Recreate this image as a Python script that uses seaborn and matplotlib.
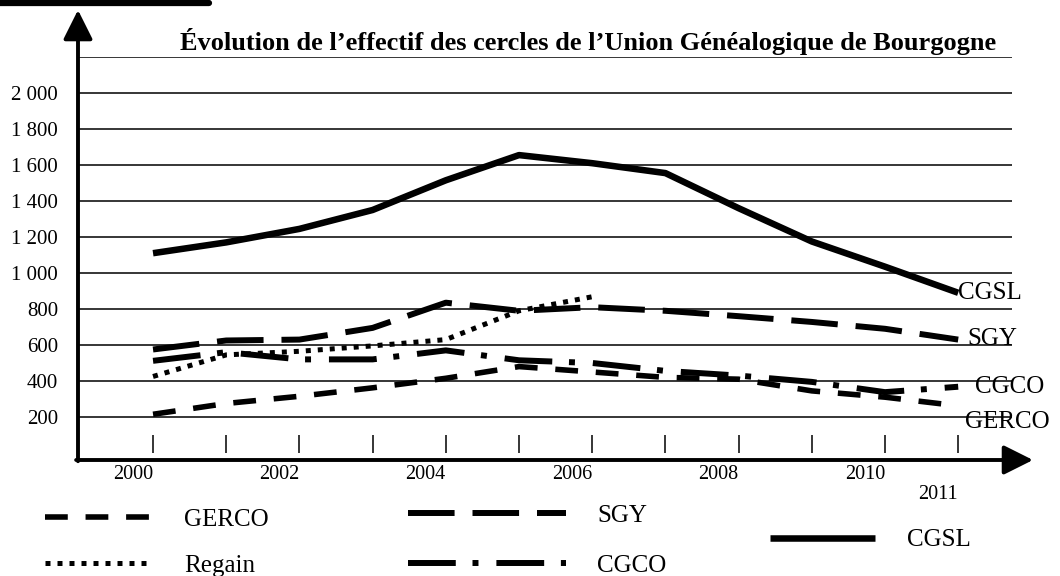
import pandas as pd
import matplotlib.pyplot as plt
import seaborn as sns
from matplotlib.lines import Line2D
from matplotlib.transforms import blended_transform_factory

# values
years = list(range(2000, 2012))
cgsl = [1110, 1170, 1245, 1350, 1515, 1655, 1610, 1555, 1360, 1175, 1035, 890]
sgy = [575, 625, 630, 695, 835, 790, 810, 790, 760, 728, 690, 630]
cgco = [512, 560, 520, 520, 570, 515, 500, 456, 430, 395, 338, 368]
gerco = [215, 275, 315, 362, 415, 480, 450, 420, 410, 345, 310, 262]
regain_years = years[:7]
regain = [425, 545, 565, 595, 630, 790, 868]

names = ['GERCO', 'Regain', 'SGY', 'CGCO', 'CGSL']
y_ticks = [200, 400, 600, 800, 1000, 1200, 1400, 1600, 1800, 2000, 2200]
y_labels = ['200', '400', '600', '800', '1 000', '1 200', '1 400', '1 600',
            '1 800', '2 000', '']
x_label_years = [2000, 2002, 2004, 2006, 2008, 2010, 2011]
title = 'Évolution de l’effectif des cercles de l’Union Généalogique de Bourgogne'

frames = []
for name, xs, vals in [('GERCO', years, gerco), ('Regain', regain_years, regain),
                       ('SGY', years, sgy), ('CGCO', years, cgco),
                       ('CGSL', years, cgsl)]:
    frames.append(pd.DataFrame({'year': xs, 'effectif': vals, 'cercle': name}))
df = pd.concat(frames, ignore_index=True)

# line styles (dash lengths in linewidth units)
dash_map = {'GERCO': (4.1, 3.2), 'Regain': (1, 1.4), 'SGY': (7.8, 3),
            'CGCO': (8, 2.8, 1, 3), 'CGSL': ''}
width_map = {'GERCO': 4.0, 'Regain': 3.6, 'SGY': 4.3, 'CGCO': 4.3, 'CGSL': 4.7}
# offsets (pixels) of the end labels from the last point
end_offsets = {'CGSL': (0, 0), 'SGY': (9, 1), 'CGCO': (17, 0), 'GERCO': (7, -16)}
last_vals = {'CGSL': cgsl[-1], 'SGY': sgy[-1], 'CGCO': cgco[-1], 'GERCO': gerco[-1]}

sns.set_theme(style='white')
plt.rcParams['font.family'] = ['Liberation Serif', 'DejaVu Serif']

fig = plt.figure(figsize=(10.6, 5.76), dpi=100)
ax = fig.add_axes([78 / 1060, 116 / 576, 934 / 1060, 403 / 576])

sns.lineplot(data=df, x='year', y='effectif', hue='cercle', style='cercle',
             size='cercle', hue_order=names, style_order=names, size_order=names,
             palette={n: 'black' for n in names}, dashes=dash_map,
             sizes=width_map, errorbar=None, legend=False, ax=ax)
handles = dict(zip(names, ax.lines[:5]))
for ln in ax.lines[:5]:
    ln.set_solid_capstyle('butt')

ax.set_xlim(1998.975, 2011.735)
ax.set_ylim(-39, 2200)
for s in ax.spines.values():
    s.set_visible(False)
ax.set_xlabel('')
ax.set_ylabel('')
ax.set_xticks([])
ax.set_yticks(y_ticks, y_labels)
ax.tick_params(axis='y', length=0, pad=14.4, labelsize=15, labelcolor='black')
ax.yaxis.grid(True, color='black', lw=1.1)
ax.set_axisbelow(True)

# small year marks above the axis
ax.vlines(years, 0, 100, color='black', lw=1.1)

trans = blended_transform_factory(ax.transData, ax.transAxes)
for yr in x_label_years:
    yy = -0.0844 if yr == 2011 else -0.0372
    ax.text(yr, yy, str(yr), transform=trans, ha='right', va='center',
            fontsize=14.5, color='black')

for name, (dx, dy) in end_offsets.items():
    ax.annotate(name, xy=(2011, last_vals[name]), xytext=(dx, dy),
                textcoords='offset pixels', ha='left', va='center',
                fontsize=18, color='black', annotation_clip=False)

# axes drawn as arrows
arrow = dict(arrowstyle='-|>,head_length=1.0,head_width=0.5', mutation_scale=18,
             lw=2.8, color='black', shrinkA=0, shrinkB=0)
ax.annotate('', xy=(0, 1.1166), xytext=(0, -0.003), xycoords='axes fraction',
            arrowprops=arrow, annotation_clip=False)
ax.annotate('', xy=(1.0225, 0), xytext=(-0.002, 0), xycoords='axes fraction',
            arrowprops=arrow, annotation_clip=False)

fig.add_artist(Line2D([0, 209 / 1060], [1 - 3 / 576] * 2,
                      transform=fig.transFigure, color='black', lw=4.5))

fig.text(588 / 1060, 1 - 50 / 576, title, ha='center', va='baseline',
         fontsize=19, fontweight='bold', color='black')

leg_kw = dict(loc='upper left', frameon=False, fontsize=18, handletextpad=1.28,
              borderpad=0, borderaxespad=0, labelcolor='black')
fig.legend([handles['GERCO'], handles['Regain']], ['GERCO', 'Regain'],
           bbox_to_anchor=(45 / 1060, 1 - 508 / 576), handlelength=4.3,
           labelspacing=0.96, **leg_kw)
fig.legend([handles['SGY'], handles['CGCO']], ['SGY', 'CGCO'],
           bbox_to_anchor=(408 / 1060, 1 - 504 / 576), handlelength=6.3,
           labelspacing=1.12, **leg_kw)
fig.legend([handles['CGSL']], ['CGSL'],
           bbox_to_anchor=(770 / 1060, 1 - 529 / 576), handlelength=4.2, **leg_kw)

fig.savefig('out.png', dpi=100)
